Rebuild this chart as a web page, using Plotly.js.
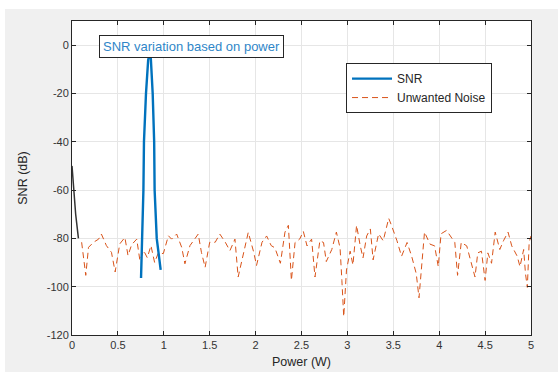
<!DOCTYPE html>
<html><head><meta charset="utf-8">
<script src="https://cdn.plot.ly/plotly-3.0.1.min.js"></script>
<style>html,body{margin:0;padding:0;background:#fff;width:558px;height:372px;overflow:hidden}
#chart{position:absolute;left:5px;top:9px;width:553px;height:363px}</style>
</head><body><div id="chart"></div>
<script>
const snrX = [0.752, 0.757, 0.77, 0.778, 0.784, 0.806, 0.83, 0.845, 0.85, 0.858, 0.879, 0.895, 0.9, 0.923, 0.945, 0.966];
const snrY = [-96.4, -90, -80, -60, -40, -20, -6, -3.5, -3.4, -5, -20, -40, -60, -80, -88, -93];
const initX = [0, 0.01, 0.02, 0.04, 0.07];
const initY = [-50, -56, -62, -70, -80];
const noiseX = [0.105,0.15,0.18,0.235,0.29,0.32,0.375,0.43,0.47,0.52,0.576,0.61,0.65,0.705,0.74,0.78,0.82,0.86,0.9,0.94,0.995,1.05,1.085,1.14,1.195,1.23,1.285,1.34,1.375,1.41,1.45,1.5,1.56,1.61,1.67,1.72,1.775,1.81,1.87,1.92,1.98,2.01,2.07,2.12,2.17,2.21,2.27,2.32,2.357,2.39,2.43,2.48,2.52,2.56,2.61,2.647,2.7,2.74,2.77,2.83,2.88,2.92,2.94,2.96,2.99,3.03,3.06,3.1,3.14,3.17,3.21,3.25,3.28,3.34,3.39,3.45,3.48,3.54,3.59,3.65,3.7,3.75,3.78,3.81,3.84,3.9,3.95,3.99,4.02,4.08,4.13,4.17,4.2,4.24,4.3,4.35,4.39,4.42,4.46,4.5,4.53,4.57,4.61,4.66,4.7,4.75,4.79,4.85,4.88,4.92,4.94,4.96,4.98,5.0];
const noiseY = [-81.6,-95.3,-83.7,-81.6,-80.3,-78.2,-83,-85.8,-93.9,-82.3,-79.6,-87.1,-82.6,-80.3,-89.2,-85,-88,-83,-90,-86,-86.3,-78.9,-80.3,-78.2,-83.7,-90.5,-83,-80.3,-78.2,-85.8,-92,-81.6,-81.6,-78.2,-81.6,-85.1,-80.3,-96,-85.1,-77.5,-85.8,-91.2,-81.6,-79,-83,-83.9,-90.3,-77.4,-74.6,-97.4,-81.7,-80.3,-77.1,-83.1,-80.3,-96,-81,-81.7,-89.6,-84.6,-77.4,-83.9,-97.4,-112.4,-93.1,-85.3,-91,-74.6,-83.1,-88.1,-79,-76.1,-88.9,-78.1,-81,-71.7,-74.6,-81,-87.4,-81.7,-87.4,-94.6,-104.6,-91,-77.4,-82.4,-83.1,-91.7,-78.1,-76.7,-79.6,-81.7,-95.3,-81.7,-83.1,-90.3,-96,-86,-85.3,-97.4,-86,-90.3,-77.4,-84.6,-81,-77.4,-83.1,-87.4,-91.7,-84.6,-94.6,-100.3,-81.7,-79];
const xTicks = [0,0.5,1,1.5,2,2.5,3,3.5,4,4.5,5];
const yTicks = [0,-20,-40,-60,-80,-100,-120];

const traces = [
  {x: noiseX, y: noiseY, mode:'lines', name:'Unwanted Noise', line:{color:'#D95319', width:1, dash:'6px,4px'}},
  {x: initX, y: initY, mode:'lines', name:'init', showlegend:false, line:{color:'#333333', width:1.5}},
  {x: snrX, y: snrY, mode:'lines', name:'SNR', line:{color:'#0072BD', width:2.4}}
];
const axisCommon = {showline:true, mirror:'ticks', linecolor:'#262626', linewidth:1, ticks:'inside', ticklen:4, tickcolor:'#262626',
  showgrid:true, gridcolor:'#e6e6e6', zeroline:false, tickfont:{family:'Liberation Sans, Arial', size:11, color:'#333333'}};
const layout = {
  width:553, height:363,
  paper_bgcolor:'#f0f0f0', plot_bgcolor:'#ffffff',
  margin:{l:67, r:27, t:12, b:37},
  showlegend:true,
  legend:{x:0.597, y:0.866, xanchor:'left', yanchor:'top', bgcolor:'#ffffff', bordercolor:'#262626', borderwidth:1,
    font:{family:'Liberation Sans, Arial', size:12, color:'#262626'}, traceorder:'reversed', tracegroupgap:0, itemwidth:40},
  xaxis: Object.assign({}, axisCommon, {range:[0,5], tickvals:xTicks, ticktext:xTicks.map(String),
    title:{text:'Power (W)', font:{family:'Liberation Sans, Arial', size:12.5, color:'#262626'}, standoff:7}}),
  yaxis: Object.assign({}, axisCommon, {range:[-120,10], tickvals:yTicks, ticktext:yTicks.map(String),
    title:{text:'SNR (dB)', font:{family:'Liberation Sans, Arial', size:12.5, color:'#262626'}, standoff:16}}),
  annotations:[{x:1.3, y:-0.6, xref:'x', yref:'y', text:'SNR variation based on power', showarrow:false,
    font:{family:'Liberation Sans, Arial', size:13, color:'#2f86c8'}, bgcolor:'#ffffff', bordercolor:'#262626', borderwidth:1, borderpad:3}]
};
Plotly.newPlot('chart', traces, layout, {displayModeBar:false, staticPlot:true});
</script></body></html>
